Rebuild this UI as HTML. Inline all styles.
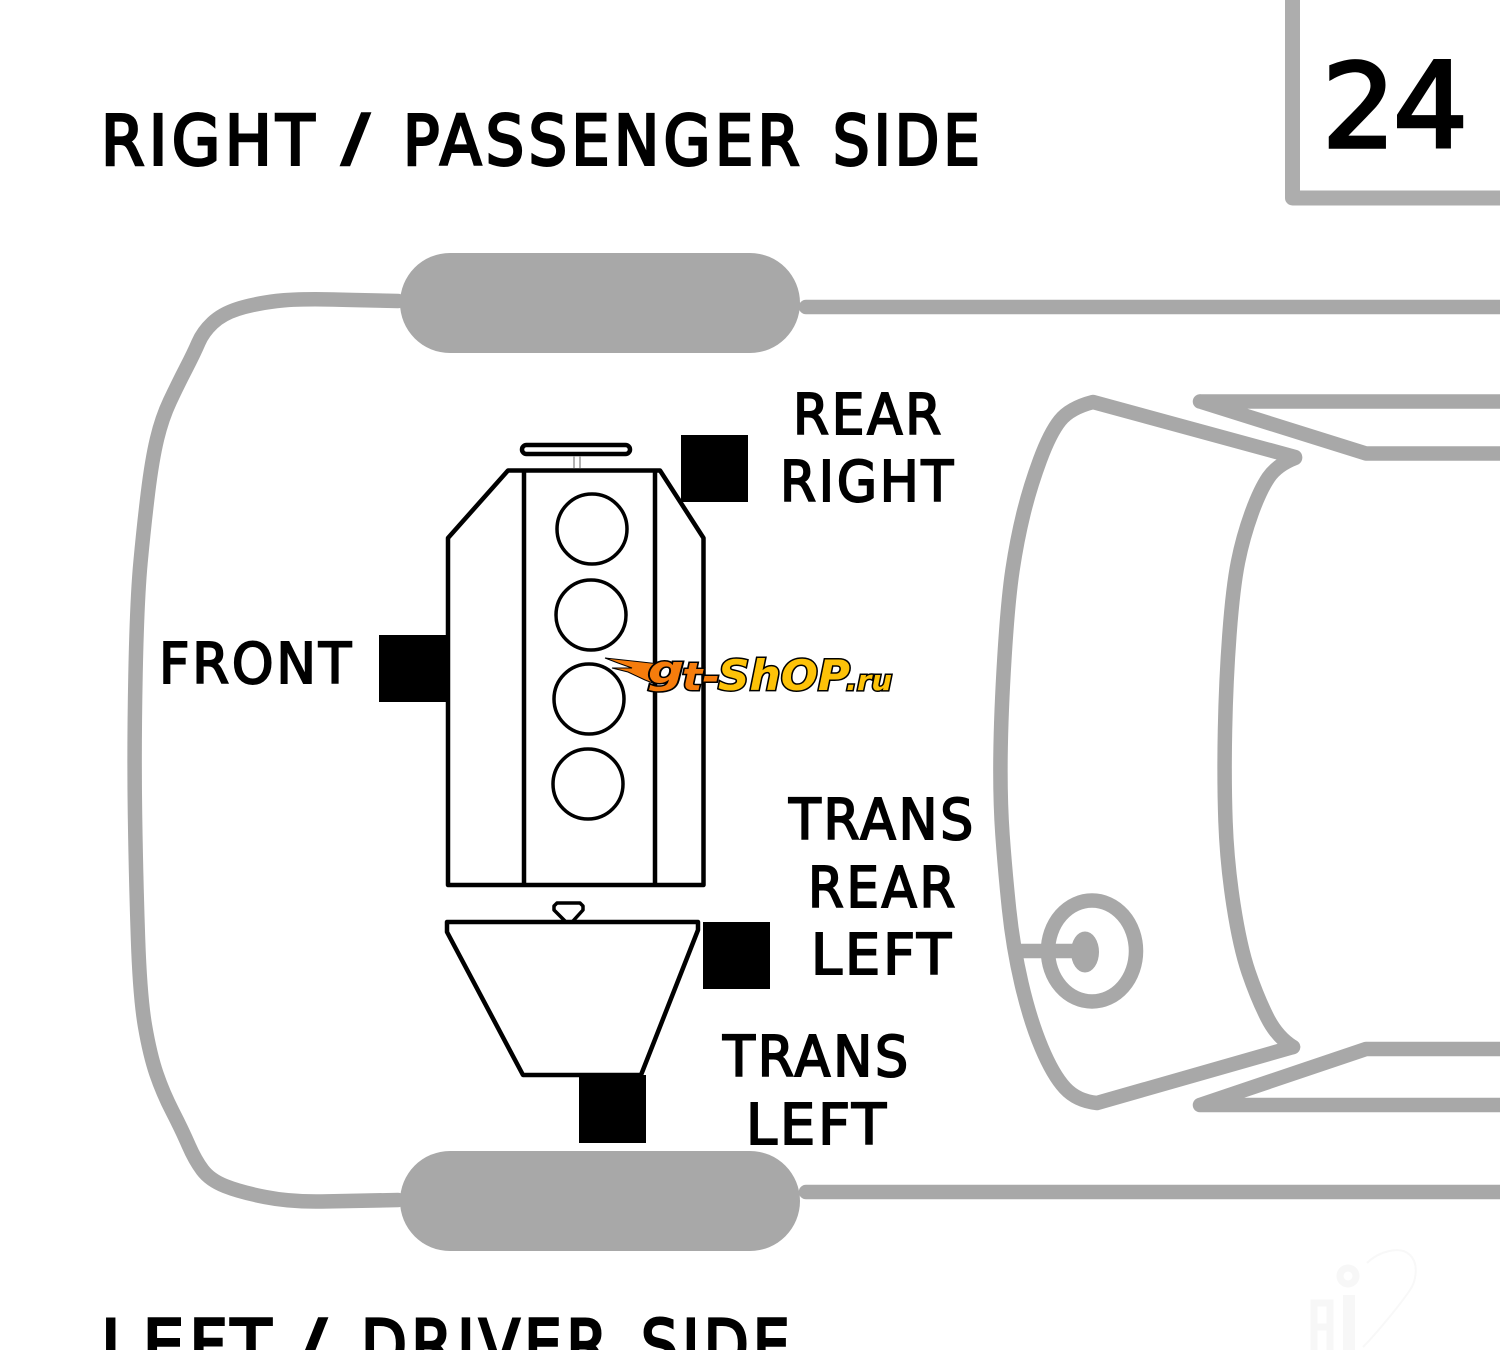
<!DOCTYPE html>
<html><head><meta charset="utf-8"><style>
html,body{margin:0;padding:0;background:#fff;width:1500px;height:1350px;overflow:hidden}
svg{display:block}
text{font-family:"DejaVu Sans","Liberation Sans",sans-serif;fill:#000;stroke:#000;stroke-width:2px;letter-spacing:3px}
.t text{stroke-width:3px;letter-spacing:5px}
.t text.s{font-family:"Liberation Sans",sans-serif;letter-spacing:0;stroke-width:1.5px}
.n{letter-spacing:0;stroke-width:3.5px}
.l text{font-family:"DejaVu Sans",sans-serif;font-weight:bold;font-style:oblique;stroke:#000;paint-order:stroke;letter-spacing:0}
</style></head><body>
<svg width="1500" height="1350" viewBox="0 0 1500 1350" xmlns="http://www.w3.org/2000/svg">
<rect width="1500" height="1350" fill="#fff"/>
<path d="M1292.5 0V198H1500" fill="none" stroke="#adadad" stroke-width="15" stroke-linejoin="round"/>
<g fill="none" stroke="#a8a8a8" stroke-width="14.5" stroke-linecap="round" stroke-linejoin="round">
<path d="M398 301L353 300Q300 298 276.5 301Q253 304 237.5 309Q222 314 212.5 323Q203 332 198.5 342.5Q194 353 186 368.5Q178 384 170 401Q162 418 157 439Q152 460 148 492.5Q144 525 140.5 562.5Q137 600 135.5 675Q134 750 135 815Q136 880 138 938.5Q140 997 145 1026Q150 1055 156.5 1074Q163 1093 172.5 1111.5Q182 1130 188.5 1145Q195 1160 202.5 1170Q210 1180 225 1186Q240 1192 265 1197Q290 1202 321.5 1201.5L398 1200"/>
<path d="M806 307H1500M806 1192H1500"/>
<path d="M1200 401.5H1500M1200 401.5L1366 453.5H1500M1200 1105H1500M1200 1105L1366 1049H1500"/>
<path d="M1295 457L1093 402Q1070 408 1060 420.5Q1050 433 1040 460Q1030 487 1023.5 513.5Q1017 540 1012.5 570Q1008 600 1004.5 656.5Q1001 713 1000.5 756.5Q1000 800 1002.5 835Q1005 870 1009 908.5Q1013 947 1021.5 983.5Q1030 1020 1041.5 1047.5Q1053 1075 1065 1088Q1077 1101 1097 1103L1293 1047"/>
<path d="M1295 458Q1277 465 1268.5 477.5Q1260 490 1251.5 513.5Q1243 537 1238 562Q1233 587 1229.5 633.5Q1226 680 1225 730Q1224 780 1225.5 821.5Q1227 863 1233.5 905Q1240 947 1248.5 972Q1257 997 1267 1017Q1277 1037 1293 1047"/>
<path d="M1018 951H1078" stroke-linecap="butt"/>
<ellipse cx="1092" cy="951" rx="44" ry="50.5"/>
</g>
<ellipse cx="1085" cy="952" rx="14" ry="20.5" fill="#a8a8a8"/>
<rect x="400" y="253" width="400" height="100" rx="50" fill="#a8a8a8"/>
<rect x="400" y="1151" width="400" height="100" rx="50" fill="#a8a8a8"/>

<g fill="#000">
<rect x="681" y="435" width="67" height="67"/>
<rect x="379" y="635" width="67" height="67"/>
<rect x="703" y="922" width="67" height="67"/>
<rect x="579" y="1075" width="67" height="68"/>
</g>
<g fill="none" stroke="#000" stroke-width="4.5" stroke-linejoin="round">
<path d="M448 885V538L508 470.5H660L703.5 538V885Z"/>
<path d="M524 470.5V885M655 470.5V885"/>
<rect x="522" y="445" width="108" height="9" rx="4.5"/>
<path d="M574 456V468M580 456V468" stroke="#999" stroke-width="1.5"/>
<circle cx="592" cy="529" r="35" stroke-width="3.5"/>
<circle cx="591" cy="615" r="35" stroke-width="3.5"/>
<circle cx="589" cy="699" r="35" stroke-width="3.5"/>
<circle cx="588" cy="784" r="35" stroke-width="3.5"/>
<path d="M447 922H698V930L641 1075H523L447 932Z"/>
<path d="M565 921L554 910V906L557 903H580L583 906V910L573 921" stroke-width="3.5"/>
</g>

<g class="t" font-size="68.5">
<text x="101" y="164.5" textLength="218" lengthAdjust="spacingAndGlyphs">RIGHT</text>
<text class="s" x="341" y="165" font-size="71" textLength="29" lengthAdjust="spacingAndGlyphs">/</text>
<text x="403" y="164.5" textLength="401" lengthAdjust="spacingAndGlyphs">PASSENGER</text>
<text x="833" y="164.5" textLength="151" lengthAdjust="spacingAndGlyphs">SIDE</text>
<text x="101" y="1369" textLength="175" lengthAdjust="spacingAndGlyphs">LEFT</text>
<text class="s" x="298" y="1370" font-size="71" textLength="29" lengthAdjust="spacingAndGlyphs">/</text>
<text x="361" y="1369" textLength="251" lengthAdjust="spacingAndGlyphs">DRIVER</text>
<text x="641" y="1369" textLength="153" lengthAdjust="spacingAndGlyphs">SIDE</text>
</g>
<g font-size="56">
<text x="793" y="434" textLength="151" lengthAdjust="spacingAndGlyphs">REAR</text>
<text x="780" y="501" textLength="176" lengthAdjust="spacingAndGlyphs">RIGHT</text>
<text x="159" y="683" textLength="195" lengthAdjust="spacingAndGlyphs">FRONT</text>
<text x="789" y="839" textLength="187" lengthAdjust="spacingAndGlyphs">TRANS</text>
<text x="808" y="907" textLength="150" lengthAdjust="spacingAndGlyphs">REAR</text>
<text x="811" y="974" textLength="143" lengthAdjust="spacingAndGlyphs">LEFT</text>
<text x="723" y="1076" textLength="188" lengthAdjust="spacingAndGlyphs">TRANS</text>
<text x="746" y="1144" textLength="143" lengthAdjust="spacingAndGlyphs">LEFT</text>
</g>
<text class="n" x="1322" y="147" font-size="116">2</text>
<text class="n" x="1393" y="147" font-size="118">4</text>

<path d="M605 658L660 664L655 684L645 680L628 672L612 668L632 668L618 663Z" fill="#f57c0c" stroke="#000" stroke-width="1"/>
<g class="l">
<text x="648" y="683" font-size="38" textLength="36" lengthAdjust="spacingAndGlyphs" style="fill:#f57c0c;stroke-width:3px">g</text>
<text x="682" y="690" font-size="38" textLength="38" lengthAdjust="spacingAndGlyphs" style="fill:#f57c0c;stroke-width:3px">t-</text>
<text x="718" y="690" font-size="42" textLength="132" lengthAdjust="spacingAndGlyphs" style="fill:#fdc208;stroke-width:3px">ShOP</text>
<text x="846" y="690" font-size="28" textLength="46" lengthAdjust="spacingAndGlyphs" style="fill:#fdc208;stroke-width:3px">.ru</text>
</g>

<path d="M1367 1263C1378 1252 1400 1245 1410 1255C1420 1265 1415 1283 1410 1290C1400 1305 1375 1335 1363 1347" fill="none" stroke="#f8f8f8" stroke-width="2"/>
<g fill="none" stroke="#f7f7f7">
<circle cx="1348" cy="1276" r="8" stroke-width="7"/>
<path d="M1349 1295V1350" stroke-width="12"/>
<path d="M1314 1350V1303H1330V1350M1314 1327H1330" stroke-width="7"/>
</g>
</svg>
</body></html>
